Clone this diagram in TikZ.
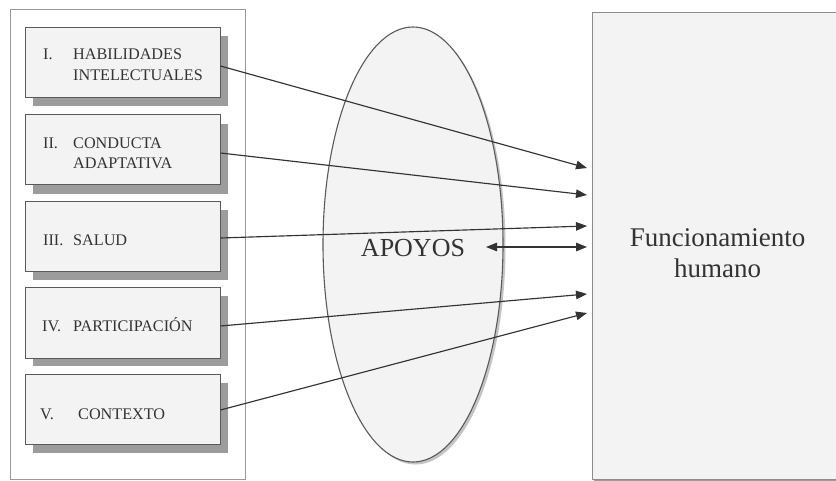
\documentclass[tikz,border=0pt]{standalone}
\usepackage{fontspec}
\setmainfont{Liberation Serif}
\usetikzlibrary{arrows.meta,calc}
\definecolor{inkgray}{HTML}{333333}
\definecolor{edgegray}{HTML}{5A5A5A}
\definecolor{boxfill}{HTML}{F3F3F3}
\definecolor{shadegray}{HTML}{9C9C9C}
\definecolor{textgray}{HTML}{333333}
\begin{document}
\begin{tikzpicture}[x=1pt,y=-1pt,
  factorbox/.style={draw=edgegray,line width=1pt,fill=boxfill,minimum width=195pt,minimum height=70pt,inner sep=0pt},
  factortext/.style={anchor=base west,inner sep=0pt,text=textgray,font=\fontsize{16.2}{19}\selectfont},
  link/.style={draw=inkgray,line width=1.15pt,-{Triangle[length=11pt,width=8.5pt]}},
  bothlink/.style={draw=inkgray,line width=1.15pt,{Triangle[length=11pt,width=8.5pt]}-{Triangle[length=11pt,width=8.5pt]}}]
\useasboundingbox (0,0) rectangle (836,481);
\fill[white] (0,0) rectangle (836,481);

% outer frame holding the five dimensions
\draw[draw=gray!80,line width=1pt,fill=white] (10,10) rectangle (245,479);

% drop shadows of the dimension boxes
\foreach \t in {28,116,202,288,375}
  \fill[shadegray] (33,\t+8) rectangle (228,\t+78);

% dimension boxes
\node[factorbox] (b1) at (122.5,63) {};
\node[factorbox] (b2) at (122.5,150) {};
\node[factorbox] (b3) at (122.5,236.5) {};
\node[factorbox] (b4) at (122.5,323) {};
\node[factorbox] (b5) at (122.5,409.5) {};

% box labels
\node[factortext] (n1) at (43,60) {I.};
\node[factortext] (l1a) at (73,60) {HABILIDADES};
\node[factortext] (l1b) at (73,80.5) {INTELECTUALES};
\node[factortext] (n2) at (43,148.5) {II.};
\node[factortext] (l2a) at (73,148.5) {CONDUCTA};
\node[factortext] (l2b) at (73,168.5) {ADAPTATIVA};
\node[factortext] (n3) at (43,245.5) {III.};
\node[factortext] (l3) at (73,245.5) {SALUD};
\node[factortext] (n4) at (42,331.5) {IV.};
\node[factortext] (l4) at (73,331.5) {PARTICIPACIÓN};
\node[factortext] (n5) at (40,419) {V.};
\node[factortext] (l5) at (78,419) {CONTEXTO};

% supports ellipse with its shadow
\fill[shadegray!60] (415.5,247) ellipse [x radius=90pt,y radius=217.5pt];
\draw[draw=edgegray,line width=1.1pt,fill=boxfill] (413,244.5) ellipse [x radius=90pt,y radius=217.5pt];
\node[inner sep=0pt,anchor=base,text=textgray,font=\fontsize{26}{30}\selectfont] (apoyos) at (413,256.5) {APOYOS};

% human functioning box
\fill[shadegray] (594,14) rectangle (846,481);
\node[draw=gray!90,line width=1pt,fill=boxfill,minimum width=254pt,minimum height=467pt,inner sep=0pt,anchor=north west] (fh) at (592,12) {};
\node[inner sep=0pt,anchor=base,text=textgray,font=\fontsize{27}{31}\selectfont] (fh1) at (717.5,246.5) {Funcionamiento};
\node[inner sep=0pt,anchor=base,text=textgray,font=\fontsize{27}{31}\selectfont] (fh2) at (717.5,277.5) {humano};

% arrow targets on the left side of the functioning box
\coordinate (t1) at (587,168);
\coordinate (t2) at (587,195);
\coordinate (t3) at (587,226);
\coordinate (t4) at (587,294);
\coordinate (t5) at (587,313);
\coordinate (tb) at (587,247);
\coordinate (sb) at (486,247);

\draw[link] ([yshift=-3pt]b1.east) -- (t1);
\draw[link] ([yshift=-3pt]b2.east) -- (t2);
\draw[link] ([yshift=-1.5pt]b3.east) -- (t3);
\draw[link] ([yshift=-3pt]b4.east) -- (t4);
\draw[link] ([yshift=-0.5pt]b5.east) -- (t5);
\draw[bothlink] (sb) -- (tb);
\end{tikzpicture}
\end{document}
